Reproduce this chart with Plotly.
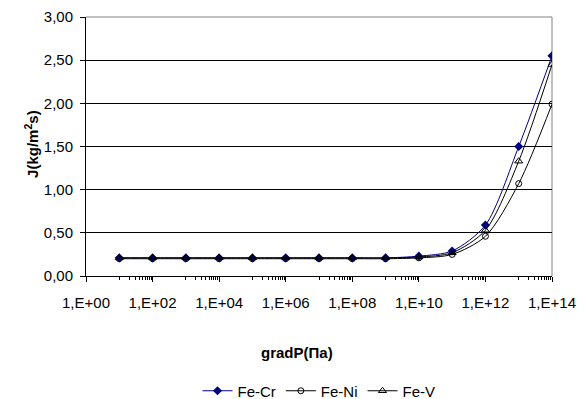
import plotly.graph_objects as go

x_exp = list(range(1, 15))
x_vals = [10.0 ** e for e in x_exp]
fe_cr = [0.21, 0.21, 0.21, 0.21, 0.21, 0.21, 0.21, 0.21, 0.21, 0.23, 0.29, 0.59, 1.50, 2.55]
fe_ni = [0.20, 0.20, 0.20, 0.20, 0.20, 0.20, 0.20, 0.20, 0.20, 0.21, 0.25, 0.46, 1.07, 1.99]
fe_v = [0.21, 0.21, 0.21, 0.21, 0.21, 0.21, 0.21, 0.21, 0.21, 0.22, 0.27, 0.53, 1.33, 2.45]

tick_exps = list(range(0, 15, 2))
tick_vals = [10.0 ** e for e in tick_exps]
tick_text = ["1,E+%02d" % e for e in tick_exps]
minor_vals = [10.0 ** e * m * 10 for e in range(0, 14, 2) for m in range(1, 10)]
y_ticks = [0, 0.5, 1.0, 1.5, 2.0, 2.5, 3.0]

FS = 15
font = dict(family="Liberation Sans, Arial, sans-serif", size=FS, color="black")

fig = go.Figure()
fig.add_trace(go.Scatter(x=x_vals, y=fe_cr, name="Fe-Cr", mode="lines+markers",
                         line=dict(color="#000080", width=1, shape="spline", smoothing=0.8),
                         marker=dict(symbol="diamond", size=7, color="#000080")))
fig.add_trace(go.Scatter(x=x_vals, y=fe_ni, name="Fe-Ni", mode="lines+markers",
                         line=dict(color="black", width=1, shape="spline", smoothing=0.8),
                         marker=dict(symbol="circle-open", size=6, color="black", line=dict(width=1))))
fig.add_trace(go.Scatter(x=x_vals, y=fe_v, name="Fe-V", mode="lines+markers",
                         line=dict(color="black", width=1, shape="spline", smoothing=0.8),
                         marker=dict(symbol="triangle-up-open", size=7, color="black", line=dict(width=1))))

fig.add_shape(type="line", xref="paper", yref="paper", x0=0, y0=1, x1=1, y1=1,
              line=dict(color="#808080", width=1), layer="between")
fig.add_shape(type="line", xref="paper", yref="paper", x0=1, y0=0, x1=1, y1=1,
              line=dict(color="#808080", width=1), layer="between")

# axis titles as annotations so margins stay fixed
fig.add_annotation(text="<b>gradP(Па)</b>", xref="paper", yref="paper", x=(297 - 86) / 466,
                   y=-(352 - 276) / 259,
                   xanchor="center", yanchor="middle", showarrow=False, font=dict(size=FS))
fig.add_annotation(text="<b>J(kg/m<sup>2</sup>s)</b>", xref="paper", yref="paper",
                   x=-(86 - 32) / 466, y=0.51, xanchor="center", yanchor="middle",
                   textangle=-90, showarrow=False, font=dict(size=FS))

fig.update_layout(
    width=585, height=399,
    margin=dict(l=86, r=33, t=17, b=123),
    paper_bgcolor="white", plot_bgcolor="white",
    font=font,
    separators=",.",
    showlegend=True,
    legend=dict(orientation="h", x=319 / 585, xanchor="center", xref="container",
                y=(399 - 391) / 399, yanchor="middle", yref="container",
                font=dict(size=FS), itemwidth=30, tracegroupgap=0),
    xaxis=dict(type="log", range=[0, 14], tickmode="array", tickvals=tick_vals, ticktext=tick_text,
               showgrid=False, showline=True, linecolor="black", linewidth=1,
               ticks="outside", ticklen=5, tickcolor="black", ticklabelstandoff=8,
               minor=dict(ticks="outside", ticklen=3, tickcolor="black", tickmode="array",
                          tickvals=minor_vals, showgrid=False),
               automargin=False, zeroline=False),
    yaxis=dict(range=[0, 3], tickvals=y_ticks, tickformat=".2f",
               showgrid=True, gridcolor="black", gridwidth=1,
               showline=True, linecolor="black", linewidth=1,
               ticks="outside", ticklen=5, tickcolor="black", ticklabelstandoff=4,
               automargin=False, zeroline=False),
)

fig.write_html("out.html")
